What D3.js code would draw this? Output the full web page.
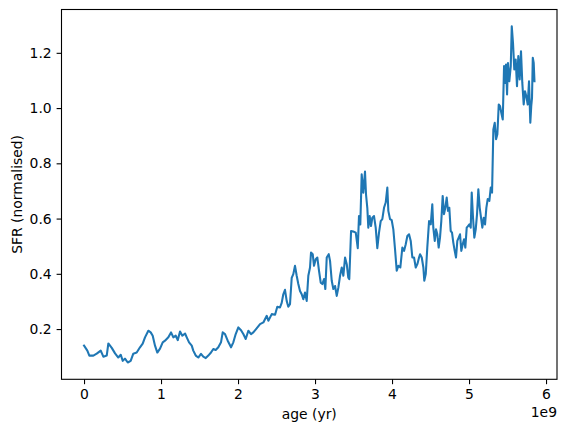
<!DOCTYPE html>
<html>
<head>
<meta charset="utf-8">
<script src="https://cdn.jsdelivr.net/npm/d3@7"></script>
<style>
  html, body { margin: 0; padding: 0; background: #ffffff; }
  svg { display: block; font-family: "DejaVu Sans", sans-serif; }
</style>
</head>
<body>
<svg id="chart" width="567" height="432"></svg>
<script>
// age in units of 1e9 yr
const ages = [
  0.000,0.043,0.069,0.121,0.165,0.217,0.251,0.295,0.316,0.360,
  0.403,0.445,0.477,0.503,0.532,0.568,0.606,0.640,0.684,0.727,
  0.762,0.792,0.835,0.866,0.892,0.922,0.952,0.987,1.022,1.052,
  1.095,1.130,1.160,1.191,1.217,1.247,1.277,1.312,1.334,1.364,
  1.399,1.419,1.451,1.484,1.519,1.549,1.581,1.614,1.649,1.679,
  1.710,1.744,1.779,1.801,1.831,1.866,1.909,1.939,1.970,2.004,
  2.039,2.069,2.100,2.134,2.169,2.199,2.234,2.286,2.329,2.373,
  2.394,2.438,2.481,2.510,2.545,2.567,2.588,2.610,2.632,2.653,
  2.675,2.697,2.718,2.740,2.762,2.783,2.805,2.827,2.848,2.870,
  2.892,2.913,2.935,2.948,2.970,2.987,3.009,3.030,3.052,3.074,
  3.095,3.117,3.134,3.152,3.178,3.195,3.217,3.238,3.260,3.282,
  3.303,3.325,3.347,3.368,3.390,3.412,3.432,3.445,3.468,3.497,
  3.529,3.555,3.571,3.588,3.606,3.627,3.649,3.662,3.679,3.692,
  3.710,3.727,3.744,3.766,3.788,3.809,3.831,3.853,3.874,3.896,
  3.918,3.939,3.952,3.974,3.996,4.017,4.039,4.061,4.082,4.108,
  4.134,4.156,4.178,4.199,4.221,4.243,4.264,4.286,4.308,4.329,
  4.351,4.364,4.386,4.407,4.419,4.438,4.458,4.481,4.503,4.523,
  4.536,4.555,4.571,4.588,4.606,4.623,4.640,4.658,4.675,4.692,
  4.710,4.727,4.744,4.762,4.779,4.796,4.814,4.831,4.848,4.866,
  4.883,4.900,4.918,4.935,4.952,4.970,4.987,5.004,5.022,5.035,
  5.052,5.069,5.087,5.104,5.121,5.139,5.156,5.173,5.191,5.208,
  5.225,5.243,5.264,5.282,5.299,5.316,5.334,5.351,5.368,5.386,
  5.403,5.419,5.438,5.455,5.468,5.481,5.494,5.506,5.523,5.542,
  5.555,5.571,5.588,5.606,5.623,5.640,5.658,5.675,5.692,5.710,
  5.727,5.744,5.762,5.779,5.796,5.808,5.818,5.828,5.840,5.850
];
const sfr = [
  0.140,0.122,0.104,0.104,0.111,0.122,0.100,0.104,0.148,0.132,
  0.112,0.097,0.107,0.085,0.093,0.079,0.085,0.111,0.115,0.134,
  0.147,0.170,0.194,0.188,0.176,0.140,0.115,0.129,0.152,0.158,
  0.170,0.188,0.170,0.176,0.160,0.191,0.176,0.184,0.170,0.152,
  0.140,0.122,0.104,0.097,0.110,0.100,0.095,0.104,0.115,0.128,
  0.124,0.134,0.152,0.188,0.182,0.158,0.134,0.152,0.182,0.206,
  0.196,0.182,0.164,0.194,0.182,0.188,0.200,0.218,0.224,0.248,
  0.230,0.254,0.252,0.281,0.278,0.295,0.326,0.342,0.302,0.281,
  0.290,0.385,0.399,0.429,0.393,0.363,0.338,0.326,0.308,0.332,
  0.302,0.393,0.423,0.477,0.471,0.429,0.453,0.459,0.411,0.368,
  0.363,0.381,0.345,0.459,0.471,0.447,0.375,0.345,0.356,0.320,
  0.350,0.393,0.423,0.393,0.459,0.435,0.386,0.381,0.555,0.553,
  0.549,0.493,0.609,0.579,0.760,0.694,0.770,0.688,0.639,0.567,
  0.609,0.573,0.603,0.609,0.567,0.493,0.549,0.591,0.598,0.639,
  0.658,0.712,0.628,0.598,0.594,0.561,0.489,0.411,0.429,0.423,
  0.495,0.483,0.507,0.537,0.543,0.519,0.459,0.459,0.423,0.435,
  0.459,0.471,0.459,0.423,0.375,0.399,0.495,0.591,0.579,0.652,
  0.567,0.519,0.561,0.543,0.495,0.531,0.591,0.682,0.616,0.639,
  0.676,0.628,0.639,0.555,0.549,0.513,0.483,0.459,0.519,0.531,
  0.543,0.483,0.507,0.525,0.495,0.567,0.573,0.579,0.567,0.694,
  0.603,0.531,0.561,0.616,0.706,0.639,0.603,0.567,0.603,0.579,
  0.639,0.671,0.664,0.712,0.694,0.923,0.947,0.887,0.905,1.013,
  1.007,0.983,0.959,1.152,1.091,1.158,1.049,1.163,1.097,1.152,
  1.296,1.236,1.140,1.176,1.079,1.188,1.104,1.206,1.091,1.013,
  1.061,1.043,1.013,1.097,0.947,1.007,1.037,1.182,1.163,1.097
];
const xTicks = [0, 1, 2, 3, 4, 5, 6];
const yTicks = [0.2, 0.4, 0.6, 0.8, 1.0, 1.2];
const xLabel = "age (yr)";
const yLabel = "SFR (normalised)";
const xOffsetLabel = "1e9";

(function () {
const W = 567, H = 432;
const mLeft = 61.5, mRight = 557, mTop = 9.5, mBottom = 379.3;

const svg = d3.select("#chart");

// matplotlib-like 5% margins
const xExt = d3.extent(ages), yExt = d3.extent(sfr);
const xm = (xExt[1] - xExt[0]) * 0.05, ym = (yExt[1] - yExt[0]) * 0.05;
const x = d3.scaleLinear().domain([xExt[0] - xm, xExt[1] + xm]).range([mLeft, mRight]);
const y = d3.scaleLinear().domain([yExt[0] - ym, yExt[1] + ym]).range([mBottom, mTop]);

const fs = 13.9;
const tickLen = 4.9;

// line
const data = ages.map((a, i) => [a, sfr[i]]);
svg.append("path")
  .datum(data)
  .attr("fill", "none")
  .attr("stroke", "#1f77b4")
  .attr("stroke-width", 2.08)
  .attr("stroke-linejoin", "round")
  .attr("stroke-linecap", "square")
  .attr("d", d3.line().x(d => x(d[0])).y(d => y(d[1])));

// axes
const xAxis = d3.axisBottom(x).tickValues(xTicks).tickFormat(d3.format("d"))
  .tickSizeInner(tickLen).tickSizeOuter(0).tickPadding(4.9);
const gx = svg.append("g").attr("transform", `translate(0,${mBottom})`).call(xAxis);
gx.select(".domain").remove();
gx.selectAll(".tick line").attr("stroke", "#000").attr("stroke-width", 1.1);
gx.selectAll(".tick text").attr("font-size", fs).attr("fill", "#000")
  .attr("font-family", "DejaVu Sans").attr("dy", "0.71em");

const yAxis = d3.axisLeft(y).tickValues(yTicks).tickFormat(d3.format(".1f"))
  .tickSizeInner(tickLen).tickSizeOuter(0).tickPadding(4.9);
const gy = svg.append("g").attr("transform", `translate(${mLeft},0)`).call(yAxis);
gy.select(".domain").remove();
gy.selectAll(".tick line").attr("stroke", "#000").attr("stroke-width", 1.1);
gy.selectAll(".tick text").attr("font-size", fs).attr("fill", "#000")
  .attr("font-family", "DejaVu Sans");

// frame
svg.append("rect")
  .attr("x", mLeft).attr("y", mTop)
  .attr("width", mRight - mLeft).attr("height", mBottom - mTop)
  .attr("fill", "none").attr("stroke", "#000").attr("stroke-width", 1.1);

// labels
svg.append("text")
  .attr("x", (mLeft + mRight) / 2).attr("y", 419)
  .attr("text-anchor", "middle").attr("font-size", fs).attr("fill", "#000")
  .text(xLabel);

svg.append("text")
  .attr("transform", `translate(22,${(mTop + mBottom) / 2}) rotate(-90)`)
  .attr("text-anchor", "middle").attr("font-size", fs).attr("fill", "#000")
  .text(yLabel);

svg.append("text")
  .attr("x", mRight).attr("y", 417)
  .attr("text-anchor", "end").attr("font-size", fs).attr("fill", "#000")
  .text(xOffsetLabel);
})();
</script>
</body>
</html>
